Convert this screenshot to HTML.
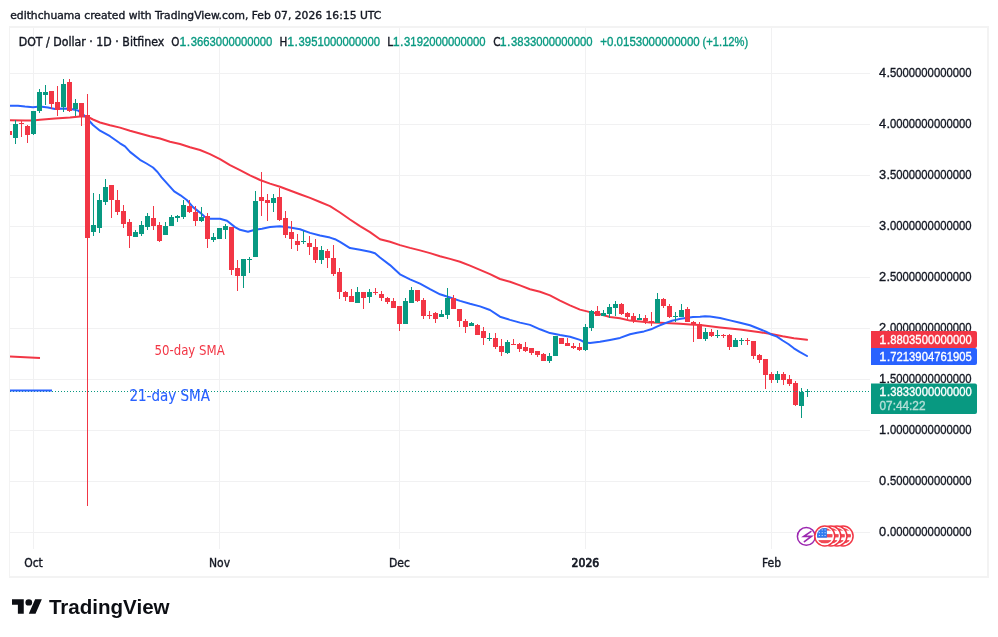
<!DOCTYPE html>
<html><head><meta charset="utf-8"><title>DOT / Dollar chart</title>
<style>html,body{margin:0;padding:0;background:#fff;}svg{display:block;will-change:transform;font-family:'DejaVu Sans Condensed', 'DejaVu Sans', sans-serif;} text{stroke-width:0.35px;}</style>
</head><body>
<svg width="998" height="637" viewBox="0 0 998 637">
<rect width="998" height="637" fill="#fff"/>
<path d="M9 26h980v552h-980z" fill="none"/>
<rect x="9" y="26" width="980" height="2" fill="#F3F3F3"/>
<rect x="9" y="576" width="980" height="2" fill="#F3F3F3"/>
<rect x="9" y="26" width="1" height="552" fill="#F3F3F3"/>
<rect x="987" y="26" width="2" height="552" fill="#F3F3F3"/>
<defs><clipPath id="pane"><rect x="10" y="28" width="860" height="521"/></clipPath></defs>
<g clip-path="url(#pane)">
<rect x="10" y="73" width="860" height="1" fill="#F1F1F2"/>
<rect x="10" y="124" width="860" height="1" fill="#F1F1F2"/>
<rect x="10" y="175" width="860" height="1" fill="#F1F1F2"/>
<rect x="10" y="226" width="860" height="1" fill="#F1F1F2"/>
<rect x="10" y="277" width="860" height="1" fill="#F1F1F2"/>
<rect x="10" y="328" width="860" height="1" fill="#F1F1F2"/>
<rect x="10" y="379" width="860" height="1" fill="#F1F1F2"/>
<rect x="10" y="430" width="860" height="1" fill="#F1F1F2"/>
<rect x="10" y="481" width="860" height="1" fill="#F1F1F2"/>
<rect x="10" y="532" width="860" height="1" fill="#F1F1F2"/>
<rect x="33" y="28" width="1" height="521" fill="#F1F1F2"/>
<rect x="219" y="28" width="1" height="521" fill="#F1F1F2"/>
<rect x="399" y="28" width="1" height="521" fill="#F1F1F2"/>
<rect x="585" y="28" width="1" height="521" fill="#F1F1F2"/>
<rect x="771" y="28" width="1" height="521" fill="#F1F1F2"/>
<polyline points="10,120.2 25,120.5 33,120.5 40,119.8 55,118.5 70,117.5 80,116.5 87,116.5 93,119.5 100,122.5 110,125.2 120,127.6 130,130.7 140,133.5 150,136.2 160,138.5 170,141.7 180,144 190,147.2 200,150 210,154.1 220,159.2 230,165.1 240,170.1 250,175.3 260,180 270,183.6 280,186.8 290,190.5 300,194.3 310,197.9 320,202 330,206.2 340,212.5 350,219.5 360,226.1 370,232.1 380,239.2 390,241.8 400,245.1 410,247.9 420,250.4 430,253.1 440,256.2 450,258.9 460,261.7 470,265.6 480,269.9 490,274.2 500,279 510,281.8 520,285.4 530,289.2 540,291.7 550,295.4 560,300.6 570,305.3 580,309.6 590,312.1 600,314.3 610,317 620,318.3 630,320.6 640,321.6 650,322.4 660,322.7 670,323.3 680,323.8 690,324.5 700,325.1 720,327.4 740,329.4 760,332.2 771.3,334.1 782.6,336.3 793.9,338.2 807,339.8" fill="none" stroke="#F23645" stroke-width="2" stroke-linejoin="round" stroke-linecap="round"/>
<polyline points="10,105.8 18,105.7 25,106.5 33,107.2 40,106.5 48,107.5 55,109 63,108.5 70,108.8 78,110.5 85,116 93,125 100,130.7 110,136.2 120,143.3 125,146.4 130,151.9 140,159.8 146.5,163.5 153,167.5 157.5,172 161.6,177.3 167.9,184.3 174.2,191.4 180.5,195.3 186.8,200 193,207.1 200,212.6 205,217 210,218.8 220,218.8 227,220.8 235,227.1 240,229.8 248,231.8 255,229.8 262,228.7 270,227.1 280,226.3 290,227.6 300,229.2 310,232.9 320,235.5 330,237.6 335,239.2 340,241.8 350,248.1 360,249.7 370,251.7 375,253.3 380,257.5 390,265.1 400,274.3 410,279.3 420,283.7 430,289.2 440,294.3 450,297.5 460,300.9 470,303.8 480,306.4 490,310 500,316.7 510,319.9 520,322.6 530,324.9 540,329.3 550,333.1 560,335.1 570,336.7 580,339.9 585,342.5 590,343 600,341.7 610,339.9 620,337.9 630,334.3 637,332.8 644,331.4 651,329.3 658,326.1 665,323.3 672,320.8 679,319.1 686,318 693,317.1 700,316.7 705,316.2 710,316.6 720,318 730,320.4 740,322.8 750,325.2 760,329.2 766,331.6 771.3,334.5 777,336.6 782.6,340.5 788.3,344 793.9,348.3 799.6,351.8 807,356" fill="none" stroke="#2962FF" stroke-width="2" stroke-linejoin="round" stroke-linecap="round"/>
<rect x="9" y="130" width="1" height="6" fill="#F23645"/>
<rect x="7" y="131" width="5" height="4" fill="#F23645"/>
<rect x="15" y="120" width="1" height="24" fill="#089981"/>
<rect x="13" y="124" width="5" height="14" fill="#089981"/>
<rect x="21" y="121" width="1" height="16" fill="#F23645"/>
<rect x="19" y="123" width="5" height="1" fill="#F23645"/>
<rect x="27" y="125" width="1" height="18" fill="#F23645"/>
<rect x="25" y="126" width="5" height="9" fill="#F23645"/>
<rect x="33" y="111" width="1" height="24" fill="#089981"/>
<rect x="31" y="111" width="5" height="23" fill="#089981"/>
<rect x="39" y="89" width="1" height="24" fill="#089981"/>
<rect x="37" y="92" width="5" height="19" fill="#089981"/>
<rect x="45" y="85" width="1" height="20" fill="#089981"/>
<rect x="43" y="92" width="5" height="3" fill="#089981"/>
<rect x="51" y="91" width="1" height="18" fill="#F23645"/>
<rect x="49" y="91" width="5" height="13" fill="#F23645"/>
<rect x="57" y="86" width="1" height="30" fill="#F23645"/>
<rect x="55" y="102" width="5" height="8" fill="#F23645"/>
<rect x="63" y="79" width="1" height="33" fill="#089981"/>
<rect x="61" y="84" width="5" height="23" fill="#089981"/>
<rect x="69" y="79" width="1" height="33" fill="#F23645"/>
<rect x="67" y="82" width="5" height="29" fill="#F23645"/>
<rect x="75" y="99" width="1" height="17" fill="#089981"/>
<rect x="73" y="103" width="5" height="6" fill="#089981"/>
<rect x="81" y="103" width="1" height="23" fill="#F23645"/>
<rect x="79" y="103" width="5" height="14" fill="#F23645"/>
<rect x="87" y="94" width="1" height="412" fill="#F23645"/>
<rect x="85" y="115" width="5" height="123" fill="#F23645"/>
<rect x="93" y="193" width="1" height="43" fill="#089981"/>
<rect x="91" y="225" width="5" height="7" fill="#089981"/>
<rect x="99" y="194" width="1" height="39" fill="#089981"/>
<rect x="97" y="200" width="5" height="28" fill="#089981"/>
<rect x="105" y="179" width="1" height="26" fill="#089981"/>
<rect x="103" y="187" width="5" height="15" fill="#089981"/>
<rect x="111" y="185" width="1" height="33" fill="#F23645"/>
<rect x="109" y="185" width="5" height="15" fill="#F23645"/>
<rect x="117" y="190" width="1" height="25" fill="#F23645"/>
<rect x="115" y="200" width="5" height="12" fill="#F23645"/>
<rect x="123" y="205" width="1" height="23" fill="#F23645"/>
<rect x="121" y="211" width="5" height="13" fill="#F23645"/>
<rect x="129" y="219" width="1" height="29" fill="#F23645"/>
<rect x="127" y="222" width="5" height="14" fill="#F23645"/>
<rect x="135" y="230" width="1" height="7" fill="#089981"/>
<rect x="133" y="232" width="5" height="5" fill="#089981"/>
<rect x="141" y="221" width="1" height="15" fill="#089981"/>
<rect x="139" y="225" width="5" height="9" fill="#089981"/>
<rect x="147" y="213" width="1" height="17" fill="#089981"/>
<rect x="145" y="216" width="5" height="11" fill="#089981"/>
<rect x="153" y="206" width="1" height="24" fill="#F23645"/>
<rect x="151" y="218" width="5" height="8" fill="#F23645"/>
<rect x="159" y="222" width="1" height="20" fill="#F23645"/>
<rect x="157" y="225" width="5" height="16" fill="#F23645"/>
<rect x="165" y="222" width="1" height="13" fill="#089981"/>
<rect x="163" y="226" width="5" height="9" fill="#089981"/>
<rect x="171" y="215" width="1" height="11" fill="#089981"/>
<rect x="169" y="217" width="5" height="9" fill="#089981"/>
<rect x="177" y="215" width="1" height="7" fill="#089981"/>
<rect x="175" y="216" width="5" height="2" fill="#089981"/>
<rect x="183" y="200" width="1" height="19" fill="#089981"/>
<rect x="181" y="205" width="5" height="12" fill="#089981"/>
<rect x="189" y="200" width="1" height="13" fill="#F23645"/>
<rect x="187" y="206" width="5" height="6" fill="#F23645"/>
<rect x="195" y="206" width="1" height="20" fill="#F23645"/>
<rect x="193" y="212" width="5" height="9" fill="#F23645"/>
<rect x="201" y="207" width="1" height="15" fill="#089981"/>
<rect x="199" y="217" width="5" height="4" fill="#089981"/>
<rect x="207" y="213" width="1" height="35" fill="#F23645"/>
<rect x="205" y="216" width="5" height="23" fill="#F23645"/>
<rect x="213" y="233" width="1" height="9" fill="#089981"/>
<rect x="211" y="237" width="5" height="3" fill="#089981"/>
<rect x="219" y="228" width="1" height="11" fill="#089981"/>
<rect x="217" y="228" width="5" height="11" fill="#089981"/>
<rect x="225" y="224" width="1" height="15" fill="#089981"/>
<rect x="223" y="226" width="5" height="4" fill="#089981"/>
<rect x="231" y="227" width="1" height="48" fill="#F23645"/>
<rect x="229" y="227" width="5" height="43" fill="#F23645"/>
<rect x="237" y="260" width="1" height="31" fill="#F23645"/>
<rect x="235" y="268" width="5" height="8" fill="#F23645"/>
<rect x="243" y="259" width="1" height="29" fill="#089981"/>
<rect x="241" y="259" width="5" height="17" fill="#089981"/>
<rect x="249" y="257" width="1" height="16" fill="#089981"/>
<rect x="247" y="259" width="5" height="1" fill="#089981"/>
<rect x="255" y="191" width="1" height="66" fill="#089981"/>
<rect x="253" y="201" width="5" height="56" fill="#089981"/>
<rect x="261" y="172" width="1" height="44" fill="#F23645"/>
<rect x="259" y="197" width="5" height="4" fill="#F23645"/>
<rect x="267" y="194" width="1" height="27" fill="#F23645"/>
<rect x="265" y="200" width="5" height="3" fill="#F23645"/>
<rect x="273" y="194" width="1" height="18" fill="#089981"/>
<rect x="271" y="198" width="5" height="5" fill="#089981"/>
<rect x="279" y="188" width="1" height="33" fill="#F23645"/>
<rect x="277" y="197" width="5" height="23" fill="#F23645"/>
<rect x="285" y="211" width="1" height="27" fill="#F23645"/>
<rect x="283" y="218" width="5" height="17" fill="#F23645"/>
<rect x="291" y="221" width="1" height="28" fill="#F23645"/>
<rect x="289" y="232" width="5" height="7" fill="#F23645"/>
<rect x="297" y="234" width="1" height="17" fill="#F23645"/>
<rect x="295" y="241" width="5" height="4" fill="#F23645"/>
<rect x="303" y="231" width="1" height="13" fill="#089981"/>
<rect x="301" y="241" width="5" height="1" fill="#089981"/>
<rect x="309" y="236" width="1" height="19" fill="#F23645"/>
<rect x="307" y="243" width="5" height="4" fill="#F23645"/>
<rect x="315" y="239" width="1" height="24" fill="#F23645"/>
<rect x="313" y="247" width="5" height="13" fill="#F23645"/>
<rect x="321" y="246" width="1" height="18" fill="#089981"/>
<rect x="319" y="250" width="5" height="10" fill="#089981"/>
<rect x="327" y="249" width="1" height="19" fill="#F23645"/>
<rect x="325" y="251" width="5" height="7" fill="#F23645"/>
<rect x="333" y="245" width="1" height="31" fill="#F23645"/>
<rect x="331" y="258" width="5" height="16" fill="#F23645"/>
<rect x="339" y="268" width="1" height="31" fill="#F23645"/>
<rect x="337" y="272" width="5" height="20" fill="#F23645"/>
<rect x="345" y="291" width="1" height="10" fill="#F23645"/>
<rect x="343" y="292" width="5" height="5" fill="#F23645"/>
<rect x="351" y="289" width="1" height="13" fill="#F23645"/>
<rect x="349" y="296" width="5" height="6" fill="#F23645"/>
<rect x="357" y="287" width="1" height="16" fill="#089981"/>
<rect x="355" y="292" width="5" height="11" fill="#089981"/>
<rect x="363" y="292" width="1" height="17" fill="#F23645"/>
<rect x="361" y="292" width="5" height="6" fill="#F23645"/>
<rect x="369" y="289" width="1" height="14" fill="#089981"/>
<rect x="367" y="292" width="5" height="5" fill="#089981"/>
<rect x="375" y="288" width="1" height="7" fill="#F23645"/>
<rect x="373" y="292" width="5" height="1" fill="#F23645"/>
<rect x="381" y="291" width="1" height="10" fill="#F23645"/>
<rect x="379" y="294" width="5" height="4" fill="#F23645"/>
<rect x="387" y="297" width="1" height="7" fill="#F23645"/>
<rect x="385" y="298" width="5" height="4" fill="#F23645"/>
<rect x="393" y="298" width="1" height="10" fill="#F23645"/>
<rect x="391" y="301" width="5" height="7" fill="#F23645"/>
<rect x="399" y="306" width="1" height="25" fill="#F23645"/>
<rect x="397" y="306" width="5" height="18" fill="#F23645"/>
<rect x="405" y="298" width="1" height="26" fill="#089981"/>
<rect x="403" y="301" width="5" height="23" fill="#089981"/>
<rect x="411" y="287" width="1" height="16" fill="#089981"/>
<rect x="409" y="290" width="5" height="13" fill="#089981"/>
<rect x="417" y="290" width="1" height="12" fill="#F23645"/>
<rect x="415" y="290" width="5" height="11" fill="#F23645"/>
<rect x="423" y="298" width="1" height="21" fill="#F23645"/>
<rect x="421" y="300" width="5" height="16" fill="#F23645"/>
<rect x="429" y="311" width="1" height="8" fill="#F23645"/>
<rect x="427" y="315" width="5" height="1" fill="#F23645"/>
<rect x="435" y="312" width="1" height="11" fill="#F23645"/>
<rect x="433" y="313" width="5" height="6" fill="#F23645"/>
<rect x="441" y="310" width="1" height="7" fill="#089981"/>
<rect x="439" y="314" width="5" height="3" fill="#089981"/>
<rect x="447" y="288" width="1" height="31" fill="#089981"/>
<rect x="445" y="298" width="5" height="17" fill="#089981"/>
<rect x="453" y="295" width="1" height="14" fill="#F23645"/>
<rect x="451" y="298" width="5" height="11" fill="#F23645"/>
<rect x="459" y="309" width="1" height="18" fill="#F23645"/>
<rect x="457" y="309" width="5" height="12" fill="#F23645"/>
<rect x="465" y="319" width="1" height="14" fill="#F23645"/>
<rect x="463" y="321" width="5" height="6" fill="#F23645"/>
<rect x="471" y="322" width="1" height="4" fill="#089981"/>
<rect x="469" y="323" width="5" height="3" fill="#089981"/>
<rect x="477" y="324" width="1" height="11" fill="#F23645"/>
<rect x="475" y="325" width="5" height="10" fill="#F23645"/>
<rect x="483" y="327" width="1" height="18" fill="#F23645"/>
<rect x="481" y="331" width="5" height="7" fill="#F23645"/>
<rect x="489" y="333" width="1" height="8" fill="#089981"/>
<rect x="487" y="338" width="5" height="1" fill="#089981"/>
<rect x="495" y="333" width="1" height="16" fill="#F23645"/>
<rect x="493" y="338" width="5" height="9" fill="#F23645"/>
<rect x="501" y="339" width="1" height="17" fill="#F23645"/>
<rect x="499" y="346" width="5" height="6" fill="#F23645"/>
<rect x="507" y="340" width="1" height="14" fill="#089981"/>
<rect x="505" y="342" width="5" height="11" fill="#089981"/>
<rect x="513" y="339" width="1" height="6" fill="#F23645"/>
<rect x="511" y="344" width="5" height="1" fill="#F23645"/>
<rect x="519" y="343" width="1" height="9" fill="#F23645"/>
<rect x="517" y="344" width="5" height="5" fill="#F23645"/>
<rect x="525" y="342" width="1" height="10" fill="#F23645"/>
<rect x="523" y="347" width="5" height="4" fill="#F23645"/>
<rect x="531" y="348" width="1" height="7" fill="#F23645"/>
<rect x="529" y="348" width="5" height="5" fill="#F23645"/>
<rect x="537" y="351" width="1" height="6" fill="#F23645"/>
<rect x="535" y="351" width="5" height="4" fill="#F23645"/>
<rect x="543" y="353" width="1" height="8" fill="#F23645"/>
<rect x="541" y="354" width="5" height="7" fill="#F23645"/>
<rect x="549" y="353" width="1" height="10" fill="#089981"/>
<rect x="547" y="356" width="5" height="5" fill="#089981"/>
<rect x="555" y="336" width="1" height="20" fill="#089981"/>
<rect x="553" y="336" width="5" height="20" fill="#089981"/>
<rect x="561" y="338" width="1" height="6" fill="#F23645"/>
<rect x="559" y="338" width="5" height="6" fill="#F23645"/>
<rect x="567" y="338" width="1" height="8" fill="#F23645"/>
<rect x="565" y="343" width="5" height="3" fill="#F23645"/>
<rect x="573" y="343" width="1" height="6" fill="#F23645"/>
<rect x="571" y="346" width="5" height="2" fill="#F23645"/>
<rect x="579" y="343" width="1" height="8" fill="#F23645"/>
<rect x="577" y="347" width="5" height="3" fill="#F23645"/>
<rect x="585" y="324" width="1" height="27" fill="#089981"/>
<rect x="583" y="327" width="5" height="23" fill="#089981"/>
<rect x="591" y="310" width="1" height="21" fill="#089981"/>
<rect x="589" y="311" width="5" height="17" fill="#089981"/>
<rect x="597" y="306" width="1" height="10" fill="#F23645"/>
<rect x="595" y="311" width="5" height="5" fill="#F23645"/>
<rect x="603" y="310" width="1" height="6" fill="#089981"/>
<rect x="601" y="313" width="5" height="3" fill="#089981"/>
<rect x="609" y="304" width="1" height="14" fill="#089981"/>
<rect x="607" y="307" width="5" height="7" fill="#089981"/>
<rect x="615" y="301" width="1" height="15" fill="#089981"/>
<rect x="613" y="304" width="5" height="4" fill="#089981"/>
<rect x="621" y="303" width="1" height="12" fill="#F23645"/>
<rect x="619" y="304" width="5" height="10" fill="#F23645"/>
<rect x="627" y="312" width="1" height="7" fill="#F23645"/>
<rect x="625" y="313" width="5" height="4" fill="#F23645"/>
<rect x="633" y="313" width="1" height="10" fill="#F23645"/>
<rect x="631" y="316" width="5" height="4" fill="#F23645"/>
<rect x="639" y="314" width="1" height="6" fill="#089981"/>
<rect x="637" y="318" width="5" height="2" fill="#089981"/>
<rect x="645" y="315" width="1" height="9" fill="#F23645"/>
<rect x="643" y="318" width="5" height="3" fill="#F23645"/>
<rect x="651" y="312" width="1" height="14" fill="#F23645"/>
<rect x="649" y="321" width="5" height="2" fill="#F23645"/>
<rect x="657" y="293" width="1" height="30" fill="#089981"/>
<rect x="655" y="299" width="5" height="24" fill="#089981"/>
<rect x="663" y="298" width="1" height="10" fill="#F23645"/>
<rect x="661" y="299" width="5" height="7" fill="#F23645"/>
<rect x="669" y="304" width="1" height="14" fill="#F23645"/>
<rect x="667" y="306" width="5" height="11" fill="#F23645"/>
<rect x="675" y="312" width="1" height="10" fill="#089981"/>
<rect x="673" y="316" width="5" height="1" fill="#089981"/>
<rect x="681" y="304" width="1" height="13" fill="#089981"/>
<rect x="679" y="310" width="5" height="7" fill="#089981"/>
<rect x="687" y="307" width="1" height="15" fill="#F23645"/>
<rect x="685" y="309" width="5" height="13" fill="#F23645"/>
<rect x="693" y="321" width="1" height="21" fill="#F23645"/>
<rect x="691" y="322" width="5" height="3" fill="#F23645"/>
<rect x="699" y="322" width="1" height="17" fill="#F23645"/>
<rect x="697" y="324" width="5" height="15" fill="#F23645"/>
<rect x="705" y="328" width="1" height="13" fill="#089981"/>
<rect x="703" y="332" width="5" height="7" fill="#089981"/>
<rect x="711" y="329" width="1" height="8" fill="#F23645"/>
<rect x="709" y="332" width="5" height="4" fill="#F23645"/>
<rect x="717" y="330" width="1" height="8" fill="#089981"/>
<rect x="715" y="335" width="5" height="1" fill="#089981"/>
<rect x="723" y="334" width="1" height="4" fill="#F23645"/>
<rect x="721" y="335" width="5" height="1" fill="#F23645"/>
<rect x="729" y="334" width="1" height="16" fill="#F23645"/>
<rect x="727" y="335" width="5" height="12" fill="#F23645"/>
<rect x="735" y="338" width="1" height="9" fill="#089981"/>
<rect x="733" y="340" width="5" height="7" fill="#089981"/>
<rect x="741" y="338" width="1" height="7" fill="#089981"/>
<rect x="739" y="340" width="5" height="1" fill="#089981"/>
<rect x="747" y="338" width="1" height="7" fill="#F23645"/>
<rect x="745" y="340" width="5" height="1" fill="#F23645"/>
<rect x="753" y="341" width="1" height="18" fill="#F23645"/>
<rect x="751" y="341" width="5" height="15" fill="#F23645"/>
<rect x="759" y="354" width="1" height="9" fill="#F23645"/>
<rect x="757" y="355" width="5" height="5" fill="#F23645"/>
<rect x="765" y="359" width="1" height="30" fill="#F23645"/>
<rect x="763" y="359" width="5" height="16" fill="#F23645"/>
<rect x="771" y="372" width="1" height="11" fill="#F23645"/>
<rect x="769" y="374" width="5" height="6" fill="#F23645"/>
<rect x="777" y="371" width="1" height="12" fill="#089981"/>
<rect x="775" y="374" width="5" height="6" fill="#089981"/>
<rect x="783" y="372" width="1" height="13" fill="#F23645"/>
<rect x="781" y="374" width="5" height="6" fill="#F23645"/>
<rect x="789" y="375" width="1" height="11" fill="#F23645"/>
<rect x="787" y="379" width="5" height="5" fill="#F23645"/>
<rect x="795" y="381" width="1" height="25" fill="#F23645"/>
<rect x="793" y="383" width="5" height="22" fill="#F23645"/>
<rect x="801" y="388" width="1" height="30" fill="#089981"/>
<rect x="799" y="392" width="5" height="14" fill="#089981"/>
<rect x="807" y="389" width="1" height="8" fill="#089981"/>
<rect x="805" y="391" width="5" height="1" fill="#089981"/>
<line x1="10" y1="391.5" x2="870" y2="391.5" stroke="#089981" stroke-width="1" stroke-dasharray="1 2"/>
<line x1="10" y1="356.5" x2="40" y2="358" stroke="#F23645" stroke-width="2"/>
<line x1="10" y1="390.5" x2="52" y2="390.5" stroke="#2962FF" stroke-width="2"/>
<text x="154.5" y="354.8" font-size="13.6" style="stroke-width:0" fill="#F23645" stroke="#F23645" textLength="70.2" lengthAdjust="spacingAndGlyphs">50-day SMA</text>
<text x="129.4" y="400.7" font-size="15.4" style="stroke-width:0.1px" fill="#2962FF" stroke="#2962FF" textLength="80.5" lengthAdjust="spacingAndGlyphs">21-day SMA</text>
</g>
<g>
<circle cx="806.3" cy="536.4" r="8.9" fill="#fff" stroke="#9C27B0" stroke-width="1.5"/>
<polyline points="810.8,531.6 803.8,536.4 811.4,536.4 804.4,541.6" fill="none" stroke="#9C27B0" stroke-width="1.7" stroke-linejoin="miter" stroke-linecap="round"/>
<circle cx="843.1" cy="536.0" r="10" fill="#fff" stroke="#F23645" stroke-width="1.5"/><clipPath id="f0"><circle cx="843.1" cy="535.8" r="7.9"/></clipPath><g clip-path="url(#f0)"><rect x="835.1" y="528.2" width="16" height="2.4" fill="#F04A55"/><rect x="835.1" y="534.1" width="16" height="3.3" fill="#F04A55"/><rect x="835.1" y="540.1" width="16" height="3.3" fill="#F04A55"/></g>
<circle cx="837.0" cy="536.0" r="10" fill="#fff" stroke="#F23645" stroke-width="1.5"/><clipPath id="f1"><circle cx="837.0" cy="535.8" r="7.9"/></clipPath><g clip-path="url(#f1)"><rect x="829.0" y="528.2" width="16" height="2.4" fill="#F04A55"/><rect x="829.0" y="534.1" width="16" height="3.3" fill="#F04A55"/><rect x="829.0" y="540.1" width="16" height="3.3" fill="#F04A55"/></g>
<circle cx="830.9" cy="536.0" r="10" fill="#fff" stroke="#F23645" stroke-width="1.5"/><clipPath id="f2"><circle cx="830.9" cy="535.8" r="7.9"/></clipPath><g clip-path="url(#f2)"><rect x="822.9" y="528.2" width="16" height="2.4" fill="#F04A55"/><rect x="822.9" y="534.1" width="16" height="3.3" fill="#F04A55"/><rect x="822.9" y="540.1" width="16" height="3.3" fill="#F04A55"/></g>
<circle cx="824.8" cy="536.0" r="10" fill="#fff" stroke="#F23645" stroke-width="1.5"/><clipPath id="f3"><circle cx="824.8" cy="535.8" r="7.9"/></clipPath><g clip-path="url(#f3)"><rect x="816.8" y="528.2" width="16" height="2.4" fill="#F04A55"/><rect x="816.8" y="534.1" width="16" height="3.3" fill="#F04A55"/><rect x="816.8" y="540.1" width="16" height="3.3" fill="#F04A55"/><rect x="816.8" y="528" width="10.1" height="9.7" fill="#2F7BF0"/><rect x="818.8" y="529.4" width="1" height="1" fill="#fff" opacity="0.85"/><rect x="818.8" y="532.2" width="1" height="1" fill="#fff" opacity="0.85"/><rect x="818.8" y="535.0" width="1" height="1" fill="#fff" opacity="0.85"/><rect x="821.7" y="529.4" width="1" height="1" fill="#fff" opacity="0.85"/><rect x="821.7" y="532.2" width="1" height="1" fill="#fff" opacity="0.85"/><rect x="821.7" y="535.0" width="1" height="1" fill="#fff" opacity="0.85"/><rect x="824.6" y="529.4" width="1" height="1" fill="#fff" opacity="0.85"/><rect x="824.6" y="532.2" width="1" height="1" fill="#fff" opacity="0.85"/><rect x="824.6" y="535.0" width="1" height="1" fill="#fff" opacity="0.85"/></g>
</g>
<text y="77" font-size="12.8" font-family="Liberation Sans, Arial, sans-serif" fill="#131722" stroke="#131722"><tspan x="879">4</tspan><tspan x="886.5">.</tspan><tspan x="890.0" textLength="81.5" lengthAdjust="spacingAndGlyphs">5000000000000</tspan></text>
<text y="128" font-size="12.8" font-family="Liberation Sans, Arial, sans-serif" fill="#131722" stroke="#131722"><tspan x="879">4</tspan><tspan x="886.5">.</tspan><tspan x="890.0" textLength="81.5" lengthAdjust="spacingAndGlyphs">0000000000000</tspan></text>
<text y="179" font-size="12.8" font-family="Liberation Sans, Arial, sans-serif" fill="#131722" stroke="#131722"><tspan x="879">3</tspan><tspan x="886.5">.</tspan><tspan x="890.0" textLength="81.5" lengthAdjust="spacingAndGlyphs">5000000000000</tspan></text>
<text y="230" font-size="12.8" font-family="Liberation Sans, Arial, sans-serif" fill="#131722" stroke="#131722"><tspan x="879">3</tspan><tspan x="886.5">.</tspan><tspan x="890.0" textLength="81.5" lengthAdjust="spacingAndGlyphs">0000000000000</tspan></text>
<text y="281" font-size="12.8" font-family="Liberation Sans, Arial, sans-serif" fill="#131722" stroke="#131722"><tspan x="879">2</tspan><tspan x="886.5">.</tspan><tspan x="890.0" textLength="81.5" lengthAdjust="spacingAndGlyphs">5000000000000</tspan></text>
<text y="332" font-size="12.8" font-family="Liberation Sans, Arial, sans-serif" fill="#131722" stroke="#131722"><tspan x="879">2</tspan><tspan x="886.5">.</tspan><tspan x="890.0" textLength="81.5" lengthAdjust="spacingAndGlyphs">0000000000000</tspan></text>
<text y="383" font-size="12.8" font-family="Liberation Sans, Arial, sans-serif" fill="#131722" stroke="#131722"><tspan x="879">1</tspan><tspan x="886.5">.</tspan><tspan x="890.0" textLength="81.5" lengthAdjust="spacingAndGlyphs">5000000000000</tspan></text>
<text y="434" font-size="12.8" font-family="Liberation Sans, Arial, sans-serif" fill="#131722" stroke="#131722"><tspan x="879">1</tspan><tspan x="886.5">.</tspan><tspan x="890.0" textLength="81.5" lengthAdjust="spacingAndGlyphs">0000000000000</tspan></text>
<text y="485" font-size="12.8" font-family="Liberation Sans, Arial, sans-serif" fill="#131722" stroke="#131722"><tspan x="879">0</tspan><tspan x="886.5">.</tspan><tspan x="890.0" textLength="81.5" lengthAdjust="spacingAndGlyphs">5000000000000</tspan></text>
<text y="536" font-size="12.8" font-family="Liberation Sans, Arial, sans-serif" fill="#131722" stroke="#131722"><tspan x="879">0</tspan><tspan x="886.5">.</tspan><tspan x="890.0" textLength="81.5" lengthAdjust="spacingAndGlyphs">0000000000000</tspan></text>
<path d="M871 331h104a2 2 0 0 1 2 2v13a2 2 0 0 1 -2 2h-104z" fill="#F23645"/><text y="344" font-size="12.8" font-family="Liberation Sans, Arial, sans-serif" fill="#fff" stroke="#fff"><tspan x="879.3">1</tspan><tspan x="886.8">.</tspan><tspan x="890.3" textLength="81.5" lengthAdjust="spacingAndGlyphs">8803500000000</tspan></text>
<path d="M871 348h104a2 2 0 0 1 2 2v13a2 2 0 0 1 -2 2h-104z" fill="#2962FF"/><text y="361" font-size="12.8" font-family="Liberation Sans, Arial, sans-serif" fill="#fff" stroke="#fff"><tspan x="879.3">1</tspan><tspan x="886.8">.</tspan><tspan x="890.3" textLength="81.5" lengthAdjust="spacingAndGlyphs">7213904761905</tspan></text>
<path d="M871 383.5h104a2 2 0 0 1 2 2v26.5a2 2 0 0 1 -2 2h-104z" fill="#089981"/><text y="395.5" font-size="12.8" font-family="Liberation Sans, Arial, sans-serif" fill="#fff" stroke="#fff"><tspan x="879.3">1</tspan><tspan x="886.8">.</tspan><tspan x="890.3" textLength="81.5" lengthAdjust="spacingAndGlyphs">3833000000000</tspan></text><text x="879.5" y="409.5" font-size="12.8" font-family="Liberation Sans, Arial, sans-serif" fill="#B5E0D8" stroke="#B5E0D8" textLength="46" lengthAdjust="spacingAndGlyphs">07:44:22</text>
<text x="33.5" y="567" font-size="12" fill="#131722" stroke="#131722" text-anchor="middle">Oct</text>
<text x="219.5" y="567" font-size="12" fill="#131722" stroke="#131722" text-anchor="middle">Nov</text>
<text x="399.5" y="567" font-size="12" fill="#131722" stroke="#131722" text-anchor="middle">Dec</text>
<text x="771.5" y="567" font-size="12" fill="#131722" stroke="#131722" text-anchor="middle">Feb</text>
<text x="571.6" y="567" font-size="12" style="stroke-width:0.7px" fill="#131722" stroke="#131722" textLength="27.6" lengthAdjust="spacingAndGlyphs">2026</text>
<text y="45.9" font-size="11.5" fill="#131722" stroke="#131722"><tspan x="18.7" textLength="145.6" lengthAdjust="spacingAndGlyphs">DOT / Dollar · 1D · Bitfinex</tspan><tspan x="171.3">O</tspan><tspan x="179.5" fill="#089981" stroke="#089981" font-family="Liberation Sans, Arial, sans-serif" font-size="12.3">1</tspan><tspan x="186.7" fill="#089981" stroke="#089981" font-family="Liberation Sans, Arial, sans-serif" font-size="12.3">.</tspan><tspan x="190.8" fill="#089981" stroke="#089981" font-family="Liberation Sans, Arial, sans-serif" font-size="12.3" textLength="81.5" lengthAdjust="spacingAndGlyphs">3663000000000</tspan><tspan x="279.6">H</tspan><tspan x="287.3" fill="#089981" stroke="#089981" font-family="Liberation Sans, Arial, sans-serif" font-size="12.3">1</tspan><tspan x="294.5" fill="#089981" stroke="#089981" font-family="Liberation Sans, Arial, sans-serif" font-size="12.3">.</tspan><tspan x="298.6" fill="#089981" stroke="#089981" font-family="Liberation Sans, Arial, sans-serif" font-size="12.3" textLength="81.5" lengthAdjust="spacingAndGlyphs">3951000000000</tspan><tspan x="387.2">L</tspan><tspan x="392.8" fill="#089981" stroke="#089981" font-family="Liberation Sans, Arial, sans-serif" font-size="12.3">1</tspan><tspan x="400.0" fill="#089981" stroke="#089981" font-family="Liberation Sans, Arial, sans-serif" font-size="12.3">.</tspan><tspan x="404.1" fill="#089981" stroke="#089981" font-family="Liberation Sans, Arial, sans-serif" font-size="12.3" textLength="81.5" lengthAdjust="spacingAndGlyphs">3192000000000</tspan><tspan x="493.2">C</tspan><tspan x="499.8" fill="#089981" stroke="#089981" font-family="Liberation Sans, Arial, sans-serif" font-size="12.3">1</tspan><tspan x="507.0" fill="#089981" stroke="#089981" font-family="Liberation Sans, Arial, sans-serif" font-size="12.3">.</tspan><tspan x="511.1" fill="#089981" stroke="#089981" font-family="Liberation Sans, Arial, sans-serif" font-size="12.3" textLength="81.5" lengthAdjust="spacingAndGlyphs">3833000000000</tspan><tspan x="600.3" fill="#089981" stroke="#089981" font-family="Liberation Sans, Arial, sans-serif" font-size="12.3" textLength="99.4" lengthAdjust="spacingAndGlyphs">+0.0153000000000</tspan><tspan x="702.6" fill="#089981" stroke="#089981" font-family="Liberation Sans, Arial, sans-serif" font-size="12.3" textLength="45.6" lengthAdjust="spacingAndGlyphs">(+1.12%)</tspan></text>
<text x="10.2" y="18.6" font-size="11.2" fill="#131722" stroke="#131722" textLength="371" lengthAdjust="spacingAndGlyphs">edithchuama created with TradingView.com, Feb 07, 2026 16:15 UTC</text>
<g transform="translate(12 595.9) scale(0.84 0.81)" fill="#0C0E13"><path d="M14 22H7V11H0V4h14v18zM28 22h-8l7.53-18h8L28 22z"/><circle cx="20" cy="8" r="4"/></g>
<text x="48.9" y="613.7" font-size="20.5" font-weight="bold" style="stroke-width:0" fill="#0C0E13" stroke="#0C0E13" font-family="Liberation Sans, Arial, sans-serif" textLength="120.7" lengthAdjust="spacingAndGlyphs">TradingView</text>
</svg>
</body></html>
